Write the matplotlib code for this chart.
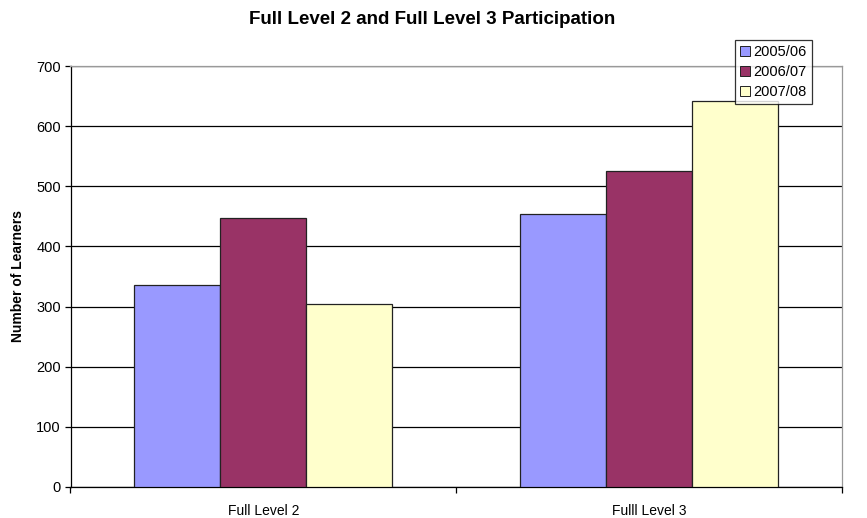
import matplotlib
matplotlib.use("Agg")
import matplotlib.pyplot as plt
import numpy as np

plt.rcParams['font.family'] = ['Liberation Sans', 'DejaVu Sans']

categories = ["Full Level 2", "Fulll Level 3"]
series_names = ["2005/06", "2006/07", "2007/08"]
v_2005 = [336, 454]
v_2006 = [448, 525]
v_2007 = [304, 641]
colors = ["#9999FF", "#993366", "#FFFFCC"]

fig = plt.figure(figsize=(8.67, 5.18), dpi=100)
W, H = 867, 518
left, right, top, bottom = 70.5, 842, 66, 487
ax = fig.add_axes([left / W, 1 - bottom / H, (right - left) / W, (bottom - top) / H])

x = np.arange(len(categories))
bw = 0.223
for i, (vals, name, c) in enumerate(zip([v_2005, v_2006, v_2007], series_names, colors)):
    ax.bar(x + (i - 1) * bw, vals, bw, color=c, edgecolor="#222222", linewidth=0.9,
           label=name, zorder=3)

ax.set_xlim(-0.5, len(categories) - 0.5)
ax.set_ylim(0, 700)
ax.set_yticks(np.arange(0, 701, 100))
ax.yaxis.grid(True, color="black", linewidth=0.9, zorder=0)
ax.set_axisbelow(True)

ax.set_xticks(np.arange(-0.5, len(categories), 1.0))
ax.set_xticklabels([])
ax.set_xticks(x, minor=True)
ax.set_xticklabels(categories, minor=True)
ax.tick_params(axis='x', which='minor', length=0, pad=12, labelsize=10)
ax.tick_params(axis='x', which='major', length=4, width=0.9, color='black')
ax.tick_params(axis='y', length=4, width=0.9, labelsize=10.5, pad=3)

for s in ['top', 'right']:
    ax.spines[s].set_color('#999999')
    ax.spines[s].set_linewidth(0.9)
for s in ['left', 'bottom']:
    ax.spines[s].set_color('black')
    ax.spines[s].set_linewidth(0.9)

ax.set_ylabel("Number of Learners", fontsize=10, fontweight='bold', labelpad=8)
fig.text(432 / W, 1 - 19 / H, "Full Level 2 and Full Level 3 Participation",
         ha='center', va='center', fontsize=13.5, fontweight='bold')

leg = fig.legend(loc='upper left', bbox_to_anchor=(735 / W, 1 - 40 / H),
                 fontsize=10.5, frameon=True, fancybox=False, edgecolor='black',
                 handlelength=0.7, handleheight=0.7, handletextpad=0.2,
                 borderpad=0.35, labelspacing=0.4, borderaxespad=0)
leg.get_frame().set_linewidth(0.9)
for h in leg.legend_handles:
    h.set_linewidth(0.7)

fig.savefig("out.png", dpi=100)
